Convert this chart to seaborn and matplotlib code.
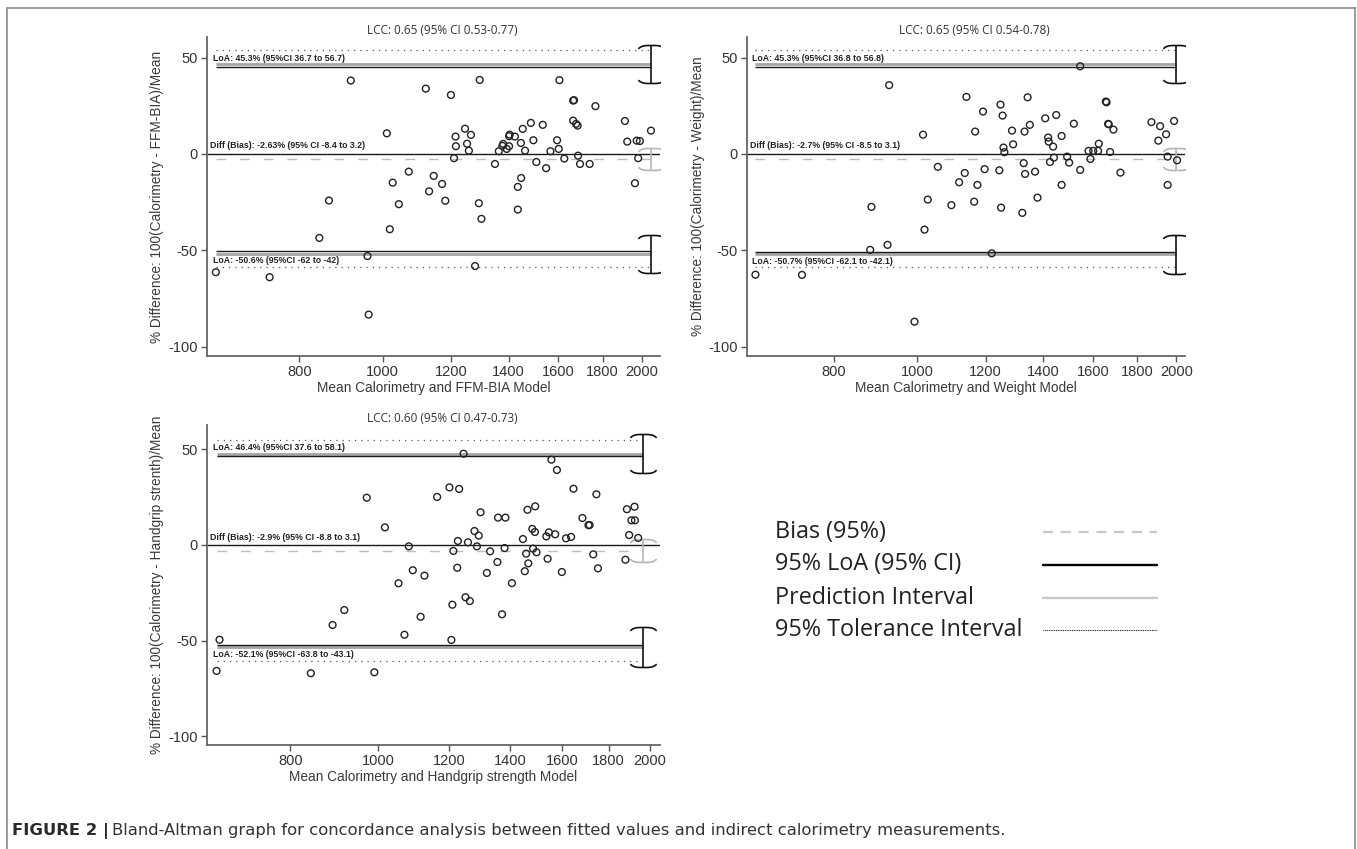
import numpy as np
import pandas as pd
import matplotlib
matplotlib.use("Agg")
import matplotlib.pyplot as plt
import seaborn as sns
from matplotlib.lines import Line2D
from matplotlib.path import Path
from matplotlib.markers import MarkerStyle

# ---- data ----
# panel 1: calorimetry vs FFM-BIA model
ffm_mean = [918, 1011, 1122, 1200, 1296, 1604, 1664, 1668, 1766, 1664, 1677, 1684, 1911, 2049,
            1923, 1972, 1989, 1246, 1215, 1266, 1253, 1216, 1259, 1486, 1534, 1454, 1404, 1402,
            1424, 1447, 1496, 1380, 1377, 1402, 1393, 1364, 1463, 1594, 1601, 1566, 1210, 1350,
            1508, 1625, 1686, 1695, 1739, 1980, 1548, 1963, 1072, 1027, 1132, 1146, 1172, 1182,
            1044, 866, 1293, 1302, 1435, 1448, 1435, 1019, 844, 960, 1280, 640, 739, 963]
ffm_diff = [38.1, 10.7, 33.9, 30.6, 38.4, 38.3, 27.7, 27.9, 24.8, 17.3, 15.6, 14.7, 17.1, 12.1,
            6.4, 6.9, 6.7, 13.1, 9.0, 9.9, 5.3, 4.0, 1.7, 16.1, 15.1, 13.0, 10.0, 9.2,
            9.0, 5.7, 7.1, 5.2, 4.2, 4.0, 2.6, 1.4, 1.7, 7.1, 2.6, 1.4, -2.2, -5.2,
            -4.2, -2.4, -0.9, -5.2, -5.2, -2.2, -7.4, -15.2, -9.2, -14.9, -19.4, -11.4, -15.6, -24.3,
            -26.1, -24.2, -25.6, -33.7, -17.1, -12.5, -28.9, -39.1, -43.6, -53.0, -58.2, -61.4, -64.0, -83.4]

# panel 2: calorimetry vs weight model
wt_mean = [927, 1015, 1140, 1167, 1192, 1249, 1256, 1343, 1288, 1332, 1351, 1259, 1262, 1292,
           1408, 1450, 1419, 1421, 1471, 1438, 1520, 1546, 1656, 1659, 1666, 1669, 1690, 1625,
           1581, 1601, 1622, 1675, 1871, 1915, 1988, 1946, 1906, 1954, 2004, 1493, 1501, 1426,
           1441, 1589, 1329, 1334, 1370, 1546, 1722, 1954, 1471, 1056, 1197, 1245, 1135, 1118,
           1174, 1379, 1028, 884, 1095, 1164, 1251, 1324, 1019, 881, 923, 1220, 648, 734, 992]
wt_diff = [35.7, 10.0, 29.6, 11.6, 22.0, 25.6, 19.9, 29.4, 12.1, 11.6, 15.1, 3.3, 0.9, 5.0,
           18.5, 20.2, 8.5, 6.4, 9.3, 3.8, 15.7, 45.5, 27.2, 26.8, 15.6, 15.4, 12.6, 5.3,
           1.6, 1.6, 1.6, 1.0, 16.5, 14.4, 17.1, 10.2, 6.9, -1.4, -3.3, -1.4, -4.5, -4.2,
           -1.9, -2.6, -4.8, -10.4, -9.2, -8.3, -9.7, -16.1, -16.1, -6.7, -7.9, -8.5, -9.9, -14.7,
           -16.1, -22.7, -23.7, -27.5, -26.6, -24.8, -27.9, -30.6, -39.3, -49.8, -47.2, -51.6, -62.7, -62.8, -87.1]

# panel 3: calorimetry vs handgrip strength model
hg_mean = [972, 1018, 1082, 1163, 1200, 1230, 1244, 1299, 1226, 1258, 1279, 1293, 1287, 1212,
           1358, 1384, 1331, 1381, 1447, 1464, 1493, 1482, 1492, 1459, 1485, 1498, 1536, 1546,
           1571, 1556, 1578, 1541, 1615, 1636, 1646, 1684, 1710, 1715, 1745, 1731, 1886, 1923,
           1908, 1925, 1897, 1941, 1879, 1356, 1467, 1454, 1224, 1320, 1752, 1598, 1093, 1126,
           1054, 1407, 1250, 1264, 1209, 1372, 1115, 918, 891, 1070, 1206, 668, 663, 843, 991]
hg_diff = [24.7, 9.2, -0.7, 25.1, 30.1, 29.3, 47.7, 17.1, 2.1, 1.4, 7.3, 4.9, -0.7, -3.1,
           14.3, 14.3, -3.3, -1.6, 3.1, 18.4, 20.2, 8.4, 6.8, -4.5, -1.9, -3.8, 4.5, 6.6,
           5.6, 44.6, 39.2, -7.2, 3.5, 4.2, 29.4, 14.1, 10.4, 10.4, 26.5, -4.9, 18.7, 20.0,
           12.9, 12.9, 5.2, 3.7, -7.7, -8.9, -9.6, -13.7, -11.9, -14.6, -12.2, -14.1, -13.2, -16.0,
           -20.0, -19.9, -27.3, -29.3, -31.2, -36.2, -37.5, -34.0, -41.8, -46.9, -49.6, -49.5, -65.8, -67.0, -66.5]

# agreement statistics per panel
bias = [-2.63, -2.7, -2.9]
bias_ci = [(-8.4, 3.2), (-8.5, 3.1), (-8.8, 3.1)]
loa_up = [45.3, 45.3, 46.4]
loa_up_ci = [(36.7, 56.7), (36.8, 56.8), (37.6, 58.1)]
loa_low = [-50.6, -50.7, -52.1]
loa_low_ci = [(-62.0, -42.0), (-62.1, -42.1), (-63.8, -43.1)]
pred_up = [46.5, 46.5, 47.5]
pred_low = [-51.8, -51.9, -53.3]
tol_up = [54.0, 54.0, 54.9]
tol_low = [-58.5, -58.5, -60.4]
bracket_x = [2049, 2000, 1967]

titles = ["LCC: 0.65 (95% CI 0.53-0.77)", "LCC: 0.65 (95% CI 0.54-0.78)", "LCC: 0.60 (95% CI 0.47-0.73)"]
xlabels = ["Mean Calorimetry and FFM-BIA Model", "Mean Calorimetry and Weight Model",
           "Mean Calorimetry and Handgrip strength Model"]
ylabels = ["% Difference: 100(Calorimetry - FFM-BIA)/Mean", "% Difference: 100(Calorimetry - Weight)/Mean",
           "% Difference: 100(Calorimetry - Handgrip strenth)/Mean"]
loa_up_txt = ["LoA: 45.3% (95%CI 36.7 to 56.7)", "LoA: 45.3% (95%CI 36.8 to 56.8)", "LoA: 46.4% (95%CI 37.6 to 58.1)"]
diff_txt = ["Diff (Bias): -2.63% (95% CI -8.4 to 3.2)", "Diff (Bias): -2.7% (95% CI -8.5 to 3.1)",
            "Diff (Bias): -2.9% (95% CI -8.8 to 3.1)"]
loa_low_txt = ["LoA: -50.6% (95%CI -62 to -42)", "LoA: -50.7% (95%CI -62.1 to -42.1)",
               "LoA: -52.1% (95%CI -63.8 to -43.1)"]
x_ticks = [800, 1000, 1200, 1400, 1600, 1800, 2000]
y_ticks = [-100, -50, 0, 50]
x_limits = [(625, 2099), (633, 2047), (647, 2052)]
y_limits = [(-104.9, 60.7), (-104.9, 60.7), (-104.5, 62.7)]

legend_labels = ["Bias (95%)", "95% LoA (95% CI)", "Prediction Interval", "95% Tolerance Interval"]

sns.set_theme(style="white")
plt.rcParams["font.family"] = ["Liberation Sans", "DejaVu Sans"]

W, H = 1357, 849
fig = plt.figure(figsize=(W / 100, H / 100), dpi=100)

# axes rectangles in pixels: left, top, right, bottom
boxes = [(207, 37, 660, 356), (746.7, 37, 1185, 356), (207, 425, 660, 745)]

t = np.linspace(-1, 1, 13)
top_cap = MarkerStyle(Path(np.column_stack([t, -0.25 * t ** 4])))
bot_cap = MarkerStyle(Path(np.column_stack([t, 0.25 * t ** 4])))


def bracket(ax, x, lo, hi, color, lw):
    ax.plot([x, x], [lo, hi], color=color, lw=lw, zorder=4, solid_capstyle="butt")
    ax.plot([x], [hi], marker=top_cap, ms=19, mfc="none", mec=color, mew=lw, zorder=4)
    ax.plot([x], [lo], marker=bot_cap, ms=19, mfc="none", mec=color, mew=lw, zorder=4)


panels = [(ffm_mean, ffm_diff), (wt_mean, wt_diff), (hg_mean, hg_diff)]
for i, (xs, ys) in enumerate(panels):
    l, tp, r, b = boxes[i]
    ax = fig.add_axes([l / W, 1 - b / H, (r - l) / W, (b - tp) / H])
    df = pd.DataFrame({"mean": xs, "pdiff": ys})
    x0, xb = min(xs), bracket_x[i]

    ax.axhline(0, color="#1a1a1a", lw=1.0, zorder=2)
    ax.plot([x0, xb], [bias[i]] * 2, color="#bcbcbc", lw=1.0, ls=(0, (7, 10)), zorder=2)
    for yv in (pred_up[i], pred_low[i]):
        ax.plot([x0, xb], [yv] * 2, color="#a5a5a5", lw=2.0, zorder=2, solid_capstyle="butt")
    for yv in (loa_up[i], loa_low[i]):
        ax.plot([x0, xb], [yv] * 2, color="#1a1a1a", lw=1.0, zorder=3, solid_capstyle="butt")
    for yv in (tol_up[i], tol_low[i]):
        ax.plot([x0, xb], [yv] * 2, color="#555555", lw=0.9, ls=(0, (1, 4)), zorder=2)

    bracket(ax, xb, *loa_up_ci[i], "#111111", 1.2)
    bracket(ax, xb, *loa_low_ci[i], "#111111", 1.2)
    bracket(ax, xb, *bias_ci[i], "#b5b5b5", 1.2)

    sns.scatterplot(data=df, x="mean", y="pdiff", ax=ax, s=24, color="#222222", zorder=5, legend=False)
    pts = ax.collections[-1]
    pts.set_facecolor("none")
    pts.set_edgecolor("#222222")
    pts.set_linewidth(1.0)

    tkw = dict(fontsize=6.3, fontweight="bold", color="#222222", textcoords="offset points",
               xycoords=("axes fraction", "data"))
    ax.annotate(loa_up_txt[i], (0, pred_up[i]), xytext=(4, 1.3), va="bottom", **tkw)
    ax.annotate(diff_txt[i], (0, 0), xytext=(2.5, 2.5), va="bottom", **tkw)
    ax.annotate(loa_low_txt[i], (0, pred_low[i]), xytext=(4, -2), va="top", **tkw)

    ax.set_xscale("log")
    ax.set_xlim(*x_limits[i])
    ax.set_ylim(*y_limits[i])
    ax.set_xticks(x_ticks)
    ax.set_xticklabels([str(v) for v in x_ticks])
    ax.xaxis.set_minor_locator(matplotlib.ticker.NullLocator())
    ax.set_yticks(y_ticks)
    ax.set_yticklabels([str(v) for v in y_ticks])
    ax.tick_params(axis="both", length=4.5, width=1.0, color="#555555", pad=2,
                   labelsize=10.5, labelcolor="#333333", left=True, bottom=True)
    for s in ("top", "right"):
        ax.spines[s].set_visible(False)
    for s in ("left", "bottom"):
        ax.spines[s].set_color("#666666")
        ax.spines[s].set_linewidth(1.3)

    ax.set_xlabel(xlabels[i], fontsize=9.8, color="#3a3a3a")
    ax.set_ylabel(ylabels[i], fontsize=9.8, color="#3a3a3a")
    ax.xaxis.set_label_coords(0.5, -0.078)
    ax.yaxis.set_label_coords(-0.094, 0.5)
    ax.text(0.52, 1.019, titles[i], transform=ax.transAxes, ha="center", va="center",
            fontsize=8.5, color="#333333", family=["Open Sans", "DejaVu Sans"])

# legend drawn as free figure text and lines
leg_y = [532, 564.5, 597.5, 630]
leg_styles = [dict(color="#c8c8c8", lw=1.6, ls=(0, (4.5, 3.5))),
              dict(color="#000000", lw=1.7),
              dict(color="#c8c8c8", lw=1.7),
              dict(color="#111111", lw=0.8, ls=(0, (0.8, 0.8)))]
for lab, yy, st in zip(legend_labels, leg_y, leg_styles):
    fig.text(775 / W, 1 - yy / H, lab, fontsize=16.8, color="#222222", va="center", ha="left",
             family=["Open Sans", "DejaVu Sans"])
    fig.add_artist(Line2D([1043 / W, 1157 / W], [1 - yy / H] * 2, transform=fig.transFigure, **st))

# outer frame (left, top, right)
fk = dict(transform=fig.transFigure, color="#8a8a8a", lw=1.2)
fig.add_artist(Line2D([7 / W, 7 / W], [0, 1 - 8 / H], **fk))
fig.add_artist(Line2D([7 / W, 1355 / W], [1 - 8 / H] * 2, **fk))
fig.add_artist(Line2D([1355 / W, 1355 / W], [0, 1 - 8 / H], **fk))

# caption
cap_family = ["DejaVu Sans"]
c1 = fig.text(12 / W, 1 - 831 / H, "FIGURE 2 |", fontsize=11.8, fontweight="bold", color="#2a2a2a",
              va="center", ha="left", family=cap_family)
fig.canvas.draw()
bb = c1.get_window_extent()
fig.text((bb.x1 + 3) / W, 1 - 831 / H,
         "Bland-Altman graph for concordance analysis between fitted values and indirect calorimetry measurements.",
         fontsize=11.8, color="#333333", va="center", ha="left", family=cap_family)

fig.savefig("out.png", dpi=100)
